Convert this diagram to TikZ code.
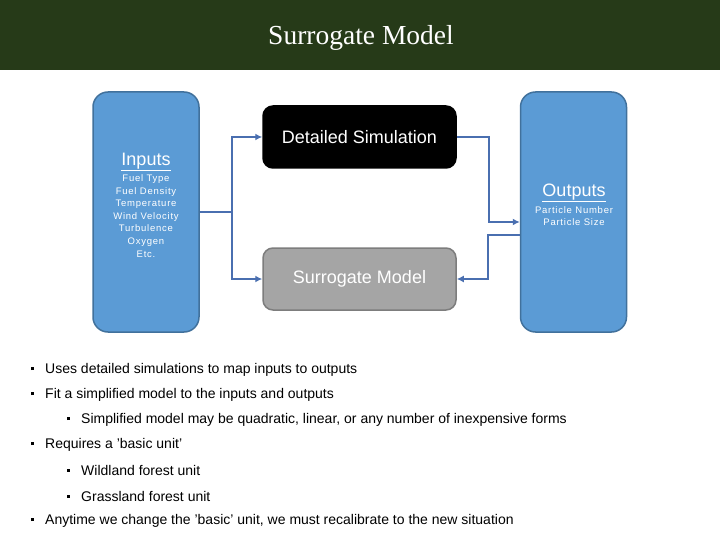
\documentclass[tikz,border=0pt]{standalone}
\usepackage{fontspec}
\setmainfont{Liberation Sans}
\newfontfamily\titlefont{Liberation Serif}
\newfontfamily\spacedfont[LetterSpace=8]{Liberation Sans}
\usepackage{tikz}
\usetikzlibrary{arrows.meta,positioning}

\definecolor{barGreen}{RGB}{38,58,24}
\definecolor{boxBlue}{RGB}{91,155,213}
\definecolor{boxEdge}{RGB}{65,113,156}
\definecolor{simGray}{RGB}{165,165,165}
\definecolor{simEdge}{RGB}{125,125,125}
\definecolor{linkBlue}{RGB}{74,111,176}

\newcommand{\bul}{\rule[3.5pt]{3pt}{3pt}}

\begin{document}
\begin{tikzpicture}[x=1pt, y=-1pt,
  iobox/.style={draw=boxEdge, line width=1.5pt, fill=boxBlue, rounded corners=15pt, minimum width=106pt, minimum height=240pt},
  simbox/.style={rounded corners=10pt, line width=1.5pt, minimum width=193pt, minimum height=62pt, text=white, font=\fontsize{18}{21}\selectfont},
  link/.style={draw=linkBlue, line width=2.5pt, -{Latex[length=7pt,width=7pt]}},
  item/.style={anchor=west, inner sep=0pt, font=\fontsize{14}{16}\selectfont}]
  \useasboundingbox (0,0) rectangle (720,540);

  % title bar
  \fill[barGreen] (0,0) rectangle (720,70);
  \node[text=white, font=\titlefont\fontsize{27.5}{30}\selectfont] (title) at (361,38) {Surrogate Model};

  % boxes
  \node[iobox] (inp) at (146,212) {};
  \node[iobox] (out) at (573.5,212) {};
  \node[simbox, draw=black, fill=black] (det) at (359.5,137) {Detailed Simulation};
  \node[simbox, draw=simEdge, fill=simGray] (sur) at (359.5,279) {Surrogate Model};

  % box texts
  \node[text=white, font=\fontsize{18}{20}\selectfont] (inlbl) at (146,162) {\underline{Inputs}};
  \node[text=white, align=center, anchor=north, inner sep=0pt, font=\spacedfont\fontsize{9.5}{12.6}\selectfont] (inlist) at (146,174.5)
    {Fuel Type\\Fuel Density\\Temperature\\Wind Velocity\\Turbulence\\Oxygen\\Etc.};
  \node[text=white, font=\fontsize{18}{20}\selectfont] (outlbl) at (574,193) {\underline{Outputs}};
  \node[text=white, align=center, anchor=north, inner sep=0pt, font=\spacedfont\fontsize{9.5}{12.6}\selectfont] (outlist) at (574,206)
    {Particle Number\\Particle Size};

  % connectors
  \draw[link] (inp.east) -- ++(32,0) |- (det.west);
  \draw[link] (inp.east) -- ++(32,0) |- (sur.west);
  \draw[link] (det.east) -- ++(32,0) |- ([yshift=-10pt]out.west);
  \draw[link] ([yshift=-23pt]out.west) -- ++(-32,0) |- (sur.east);

  % bullet list
  \node[item] (b1) at (31,370) {\bul\hspace{11pt}Uses detailed simulations to map inputs to outputs};
  \node[item] (b2) at (31,395) {\bul\hspace{11pt}Fit a simplified model to the inputs and outputs};
  \node[item] (b2a) at (67,420) {\bul\hspace{11pt}Simplified model may be quadratic, linear, or any number of inexpensive forms};
  \node[item] (b3) at (31,445) {\bul\hspace{11pt}Requires a 'basic unit'};
  \node[item] (b3a) at (67,470) {\bul\hspace{11pt}Wildland forest unit};
  \node[item] (b3b) at (67,496) {\bul\hspace{11pt}Grassland forest unit};
  \node[item] (b4) at (31,521) {\bul\hspace{11pt}Anytime we change the 'basic' unit, we must recalibrate to the new situation};
\end{tikzpicture}
\end{document}
